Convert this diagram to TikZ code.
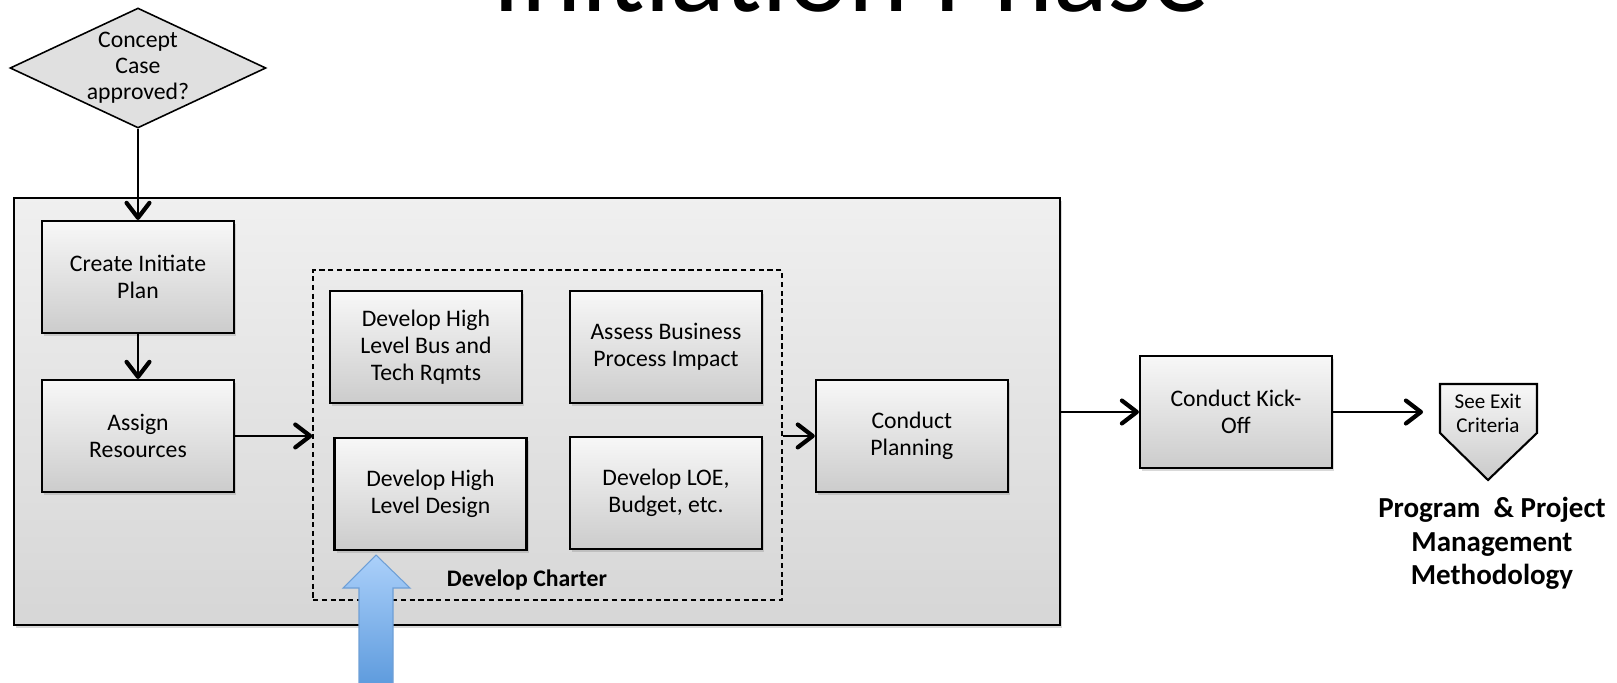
\documentclass[tikz,border=0pt]{standalone}
\usepackage{fontspec}
\setmainfont{Carlito}
\usetikzlibrary{positioning,shapes.geometric,arrows.meta,shadows}

\definecolor{arrowtop}{HTML}{ABD0FA}
\definecolor{arrowbot}{HTML}{5595DA}
\definecolor{arrowline}{HTML}{6E9FD6}

\tikzset{
  stepbox/.style={draw,line width=1.2pt,top color=gray!6,bottom color=gray!40,
    minimum width=3.84cm,minimum height=2.24cm,align=center,inner sep=2pt,
    font=\fontsize{13.5}{15.4}\selectfont,
    drop shadow={shadow xshift=1.2pt,shadow yshift=-1.6pt,opacity=0.3}},
  flow/.style={line width=0.8pt,-{Straight Barb[length=8.5pt,width=13pt,line width=2.4pt,round]}},
}

\begin{document}
\begin{tikzpicture}[x=0.02cm,y=-0.02cm]
  \useasboundingbox (0,0) rectangle (1617,683);

  \node [font=\fontsize{65}{70}\selectfont,anchor=base] (title) at (851,11) {Initiation Phase};

  % outer phase box
  \node [draw,line width=1.2pt,top color=gray!12,bottom color=gray!32,minimum width=20.92cm,minimum height=8.54cm,
    drop shadow={shadow xshift=1.2pt,shadow yshift=-1.6pt,opacity=0.3}] (initbox) at (537,411.5) {};

  \node [draw,diamond,line width=0.9pt,fill=gray!24,minimum width=5.12cm,minimum height=2.4cm,inner sep=-8pt,
    align=center,font=\fontsize{13.5}{14.8}\selectfont] (concept) at (138,68) {Concept\\Case\\approved?};

  \node [stepbox] (create) at (138,277) {Create Initiate\\Plan};
  \node [stepbox,below of=create,node distance=3.18cm] (assign) {Assign\\Resources};

  % charter group
  \node [draw,line width=0.8pt,dash pattern=on 3pt off 2pt,minimum width=9.38cm,minimum height=6.6cm] (charter) at (547.5,435) {};
  \node [stepbox] (busreq) at (426,347) {Develop High\\Level Bus and\\Tech Rqmts};
  \node [stepbox,right of=busreq,node distance=4.8cm] (impact) {Assess Business\\Process Impact};
  \node [stepbox,below of=busreq,node distance=2.94cm,xshift=0.09cm] (design) {Develop High\\Level Design};
  \node [stepbox,below of=impact,node distance=2.92cm] (loe) {Develop LOE,\\Budget, etc.};
  \node [font=\bfseries\fontsize{13.5}{15.4}\selectfont] (chartername) at (527,580) {Develop Charter};

  \node [stepbox,right of=assign,node distance=15.48cm] (planning) {Conduct\\Planning};
  \node [stepbox] (kickoff) at (1236,412) {Conduct Kick-\\Off};

  % off-page connector
  \draw [line width=1.2pt,top color=gray!6,bottom color=gray!42] (1440,384) -- (1537,384) -- (1537,433) -- (1488,480) -- (1440,433) -- cycle;
  \node [align=center,font=\fontsize{12}{13.7}\selectfont] (exit) at (1488,413) {See Exit\\Criteria};
  \coordinate (exitin) at (1423,412);
  \node [align=center,anchor=north,inner sep=0pt,font=\bfseries\fontsize{16.5}{19}\selectfont] (pmm) at (1492,497)
    {Program\ \ \& Project\\Management\\Methodology};

  % input arrow
  \draw [line width=0.6pt,draw=arrowline,top color=arrowtop,bottom color=arrowbot]
    (359,700) -- (359,588) -- (343,588) -- (376,555) -- (410,588) -- (393,588) -- (393,700) -- cycle;

  \draw [flow] (concept) -- (create);
  \draw [flow] (create) -- (assign);
  \draw [flow] (assign) -- (assign -| charter.west);
  \draw [flow] (charter.east |- planning) -- (planning);
  \draw [flow] (initbox.east |- kickoff) -- (kickoff);
  \draw [flow] (kickoff) -- (exitin);
\end{tikzpicture}
\end{document}
